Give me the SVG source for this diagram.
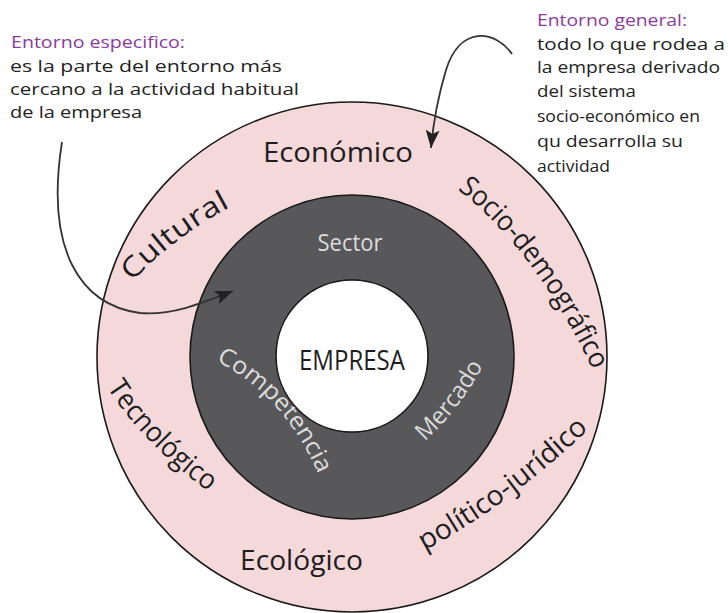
<svg xmlns="http://www.w3.org/2000/svg" width="728" height="613" viewBox="0 0 728 613">
  <style>
    .note { font-family: "Open Sans", "Liberation Sans", sans-serif; font-size: 16px; fill: #222; }
    .head { fill: #8b3a9c; }
    .outer { font-family: "Open Sans", "Liberation Sans", sans-serif; font-size: 28px; fill: #1e1e1e; }
    .inner { font-family: "Open Sans", "Liberation Sans", sans-serif; font-size: 24px; fill: #dcdcdc; }
    .core { font-family: "Open Sans", "Liberation Sans", sans-serif; font-size: 28px; fill: #1e1e1e; }
    .ring { stroke: #1a1a1a; stroke-width: 1.6; }
    .conn { fill: none; stroke: #333; stroke-width: 1.8; marker-end: url(#arrow); }
  </style>
  <defs>
    <marker id="arrow" markerUnits="userSpaceOnUse" markerWidth="20" markerHeight="14" refX="18" refY="7" orient="auto">
      <path d="M0,0 L18,7 L0,14 L4,7 Z" fill="#222"/>
    </marker>
    <!-- baselines for the curved labels -->
    <path id="p-cultural" d="M130,284 Q175,235 236,204"/>
    <path id="p-socio" d="M456,188 Q535,250 592,368"/>
    <path id="p-tecno" d="M106,386 Q140,440 206,490"/>
    <path id="p-politico" d="M422,552 Q510,505 592,426"/>
    <path id="p-competencia" d="M214,360 Q285,395 320,478"/>
    <path id="p-mercado" d="M424,442 Q460,410 485,362"/>
  </defs>

  <rect width="728" height="613" fill="#ffffff"/>

  <!-- general environment ring -->
  <g id="entorno-general">
    <circle class="ring" cx="352" cy="357" r="255" fill="#f5d9da"/>
    <text class="outer" x="263" y="162" textLength="150" lengthAdjust="spacingAndGlyphs" font-size="30">Económico</text>
    <text class="outer"><textPath href="#p-cultural" startOffset="3" textLength="124" lengthAdjust="spacingAndGlyphs">Cultural</textPath></text>
    <text class="outer"><textPath href="#p-socio" startOffset="2" textLength="228" lengthAdjust="spacingAndGlyphs">Socio-demográfico</textPath></text>
    <text class="outer"><textPath href="#p-tecno" startOffset="2" textLength="146" lengthAdjust="spacingAndGlyphs">Tecnológico</textPath></text>
    <text class="outer" x="240" y="570" textLength="123" lengthAdjust="spacingAndGlyphs">Ecológico</text>
    <text class="outer"><textPath href="#p-politico" startOffset="3" textLength="205" lengthAdjust="spacingAndGlyphs">político-jurídico</textPath></text>
  </g>

  <!-- specific environment ring -->
  <g id="entorno-especifico">
    <circle class="ring" cx="352" cy="357" r="162" fill="#58585b"/>
    <text class="inner" x="350" y="251" text-anchor="middle" font-size="19" textLength="65" lengthAdjust="spacingAndGlyphs">Sector</text>
    <text class="inner"><textPath href="#p-competencia" startOffset="2" textLength="156" lengthAdjust="spacingAndGlyphs">Competencia</textPath></text>
    <text class="inner"><textPath href="#p-mercado" startOffset="1" textLength="96" lengthAdjust="spacingAndGlyphs">Mercado</textPath></text>
  </g>

  <!-- company core -->
  <g id="empresa">
    <circle class="ring" cx="352" cy="356" r="76" fill="#ffffff"/>
    <text class="core" x="352" y="370" text-anchor="middle" textLength="106" lengthAdjust="spacingAndGlyphs">EMPRESA</text>
  </g>

  <!-- annotation: specific environment -->
  <g id="nota-especifico">
    <text class="note head" x="11" y="48" textLength="174" lengthAdjust="spacingAndGlyphs">Entorno especifico:</text>
    <text class="note" x="10" y="72" textLength="272" lengthAdjust="spacingAndGlyphs">es la parte del entorno más</text>
    <text class="note" x="10" y="95" textLength="289" lengthAdjust="spacingAndGlyphs">cercano a la actividad habitual</text>
    <text class="note" x="10" y="118" textLength="132" lengthAdjust="spacingAndGlyphs">de la empresa</text>
  </g>

  <!-- annotation: general environment -->
  <g id="nota-general">
    <text class="note head" x="537" y="26" textLength="150" lengthAdjust="spacingAndGlyphs">Entorno general:</text>
    <text class="note" x="537" y="50" textLength="188" lengthAdjust="spacingAndGlyphs">todo lo que rodea a</text>
    <text class="note" x="537" y="73" textLength="183" lengthAdjust="spacingAndGlyphs">la empresa derivado</text>
    <text class="note" x="537" y="97" textLength="99" lengthAdjust="spacingAndGlyphs">del sistema</text>
    <text class="note" x="537" y="122" textLength="163" lengthAdjust="spacingAndGlyphs">socio-económico en</text>
    <text class="note" x="537" y="147" textLength="146" lengthAdjust="spacingAndGlyphs">qu desarrolla su</text>
    <text class="note" x="537" y="172" textLength="73" lengthAdjust="spacingAndGlyphs">actividad</text>
  </g>

  <!-- pointers from the notes to the rings -->
  <g id="connectors">
    <path class="conn" d="M62,142 C45,250 80,305 140,313 C172,316 205,302 233,291"/>
    <path class="conn" d="M512,54 C495,30 460,25 446,70 C440,90 434,115 431,148"/>
  </g>
</svg>
